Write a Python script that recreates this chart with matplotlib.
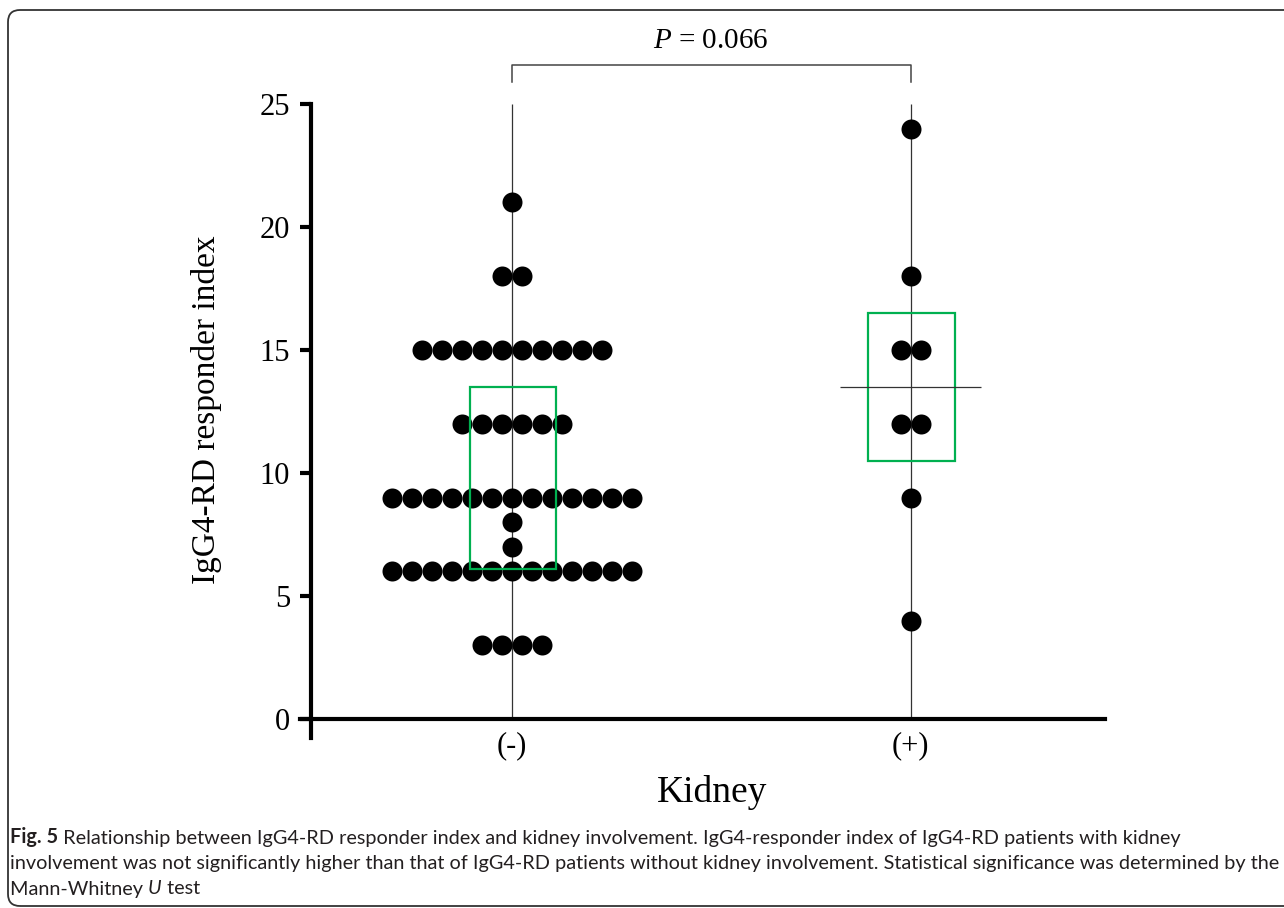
import matplotlib
matplotlib.use('Agg')
import matplotlib.pyplot as plt
from matplotlib.patches import FancyBboxPatch, Rectangle
from matplotlib.transforms import IdentityTransform
import numpy as np

plt.rcParams['font.family'] = ['Liberation Serif', 'DejaVu Serif']
plt.rcParams['mathtext.fontset'] = 'custom'
plt.rcParams['mathtext.rm'] = 'Liberation Serif'
plt.rcParams['mathtext.it'] = 'Liberation Serif:italic'

# data
groups = ['(-)', '(+)']
neg_values = [21, 18, 15, 12, 9, 8, 7, 6, 3]
neg_counts = [1, 2, 10, 6, 13, 1, 1, 13, 4]
pos_values = [24, 18, 15, 12, 9, 4]
pos_counts = [1, 1, 2, 2, 1, 1]
box_lo = [6.1, 10.5]
box_hi = [13.5, 16.5]
pos_median = 13.5
p_label = r'$P$ = 0.066'

cap1_bold = 'Fig. 5'
cap1 = (' Relationship between IgG4-RD responder index and kidney involvement. '
        'IgG4-responder index of IgG4-RD patients with kidney')
cap2 = ('involvement was not significantly higher than that of IgG4-RD patients without '
        'kidney involvement. Statistical significance was determined by the')

W, H = 1284, 908
fig = plt.figure(figsize=(W / 100, H / 100), dpi=100)
ax = fig.add_axes([300 / W, 170 / H, 805 / W, 634 / H])

dx = 0.0501
def swarm(xc, values, counts):
    xs, ys = [], []
    for v, n in zip(values, counts):
        for i in range(n):
            xs.append(xc + (i - (n - 1) / 2) * dx)
            ys.append(v)
    return xs, ys

ax.vlines([0, 1], 0, 25, color='#333333', lw=0.9, zorder=2)
for xc, vals, cnts in [(0, neg_values, neg_counts), (1, pos_values, pos_counts)]:
    xs, ys = swarm(xc, vals, cnts)
    ax.scatter(xs, ys, s=14.4 ** 2, c='black', linewidths=0, zorder=3)

for i in range(2):
    ax.add_patch(Rectangle((i - 0.106, box_lo[i]), 0.216, box_hi[i] - box_lo[i],
                           fill=False, ec='#00b050', lw=1.6, zorder=4))
ax.hlines(pos_median, 1 - 0.177, 1 + 0.177, color='#333333', lw=0.9, zorder=4)

ax.set_xlim(-0.531, 1.487)
ax.set_ylim(-0.77, 25)
for s in ['top', 'right']:
    ax.spines[s].set_visible(False)
ax.spines['left'].set_position(('data', -0.504))
ax.spines['bottom'].set_position(('data', 0))
ax.spines['left'].set_linewidth(3)
ax.spines['bottom'].set_linewidth(3)
ax.set_yticks(range(0, 26, 5))
ax.tick_params(axis='y', length=8, width=3, pad=7, labelsize=22)
ax.set_xticks([0, 1])
ax.set_xticklabels(groups)
ax.tick_params(axis='x', length=0, pad=9, labelsize=22)

# significance bracket
ax.plot([0, 0, 1, 1], [25.9, 26.6, 26.6, 25.9], color='#444444', lw=1.1, clip_on=False)
ax.text(0.5, 27.55, p_label, ha='center', va='center', fontsize=21)

fig.text(712 / W, (H - 793) / H, 'Kidney', ha='center', va='center', fontsize=27)
fig.text(207 / W, (H - 410) / H, 'IgG4-RD responder index', rotation=90,
         ha='center', va='center', fontsize=24)

cap_font = ['Lato', 'DejaVu Sans']
cap_size = 14.3
cap_col = '#231f20'
t = fig.text(10 / W, (H - 837) / H, cap1_bold, family=cap_font, fontsize=cap_size,
             fontweight='bold', va='center', color=cap_col)
fig.add_artist(plt.Annotation(cap1, xy=(1, 0), xycoords=t, va='bottom',
                              family=cap_font, fontsize=cap_size, color=cap_col))
fig.text(10 / W, (H - 863) / H, cap2, family=cap_font, fontsize=cap_size,
         va='center', color=cap_col)
t3 = fig.text(10 / W, (H - 889) / H, 'Mann-Whitney ', family=cap_font, fontsize=cap_size,
              va='center', color=cap_col)
t4 = plt.Annotation('U', xy=(1, 0), xycoords=t3, va='bottom', family=cap_font,
                    fontsize=cap_size, style='italic', color=cap_col)
fig.add_artist(t4)
fig.add_artist(plt.Annotation(' test', xy=(1, 0), xycoords=t4, va='bottom',
                              family=cap_font, fontsize=cap_size, color=cap_col))

frame = FancyBboxPatch((8, 2), 1400, 896, boxstyle='round,pad=0,rounding_size=12',
                       transform=IdentityTransform(), fill=False, ec='#333333', lw=1.3)
fig.add_artist(frame)

fig.savefig('out.png', dpi=100)
